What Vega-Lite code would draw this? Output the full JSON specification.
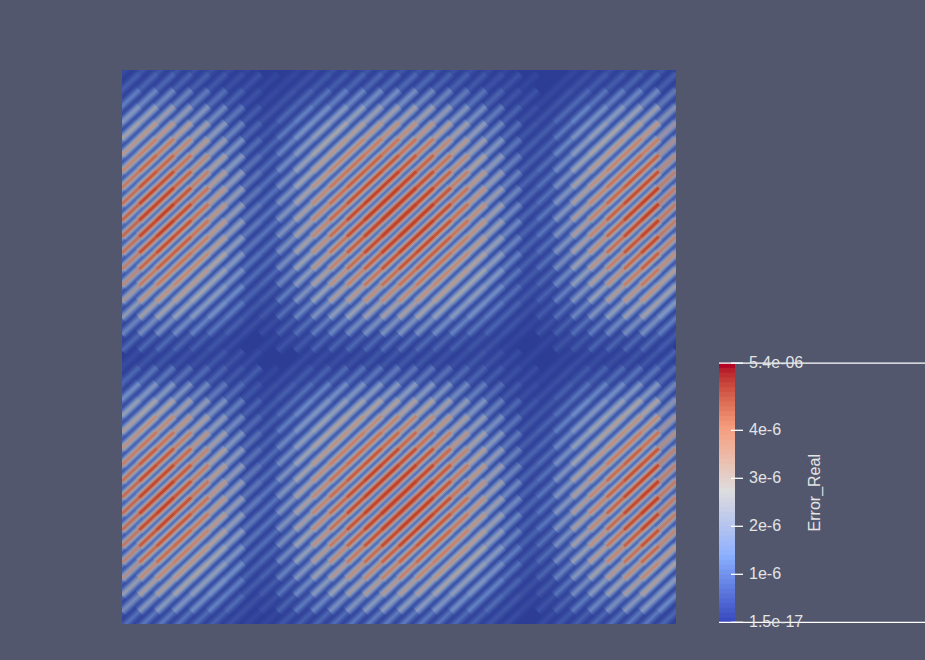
{"$schema":"https://vega.github.io/schema/vega-lite/v6.json","background":"#52576e","padding":{"left":122,"top":70,"right":0,"bottom":36},"spacing":42,"config":{"view":{"stroke":null}},
"datasets":{"cells":[
{"x":0,"y":0,"v":0.3},{"x":0,"y":1,"v":0.7},{"x":0,"y":2,"v":1.2},{"x":0,"y":3,"v":1.7},{"x":0,"y":4,"v":2},{"x":0,"y":5,"v":2.4},{"x":0,"y":6,"v":2.7},{"x":0,"y":7,"v":2.9},{"x":0,"y":8,"v":3},{"x":0,"y":9,"v":3},{"x":0,"y":10,"v":2.8},{"x":0,"y":11,"v":2.6},{"x":0,"y":12,"v":2.3},{"x":0,"y":13,"v":2},{"x":0,"y":14,"v":1.5},{"x":0,"y":15,"v":1},{"x":0,"y":16,"v":0.5},{"x":0,"y":18,"v":0.4},{"x":0,"y":19,"v":0.9},{"x":0,"y":20,"v":1.4},{"x":0,"y":21,"v":1.8},{"x":0,"y":22,"v":2.2},{"x":0,"y":23,"v":2.5},{"x":0,"y":24,"v":2.8},{"x":0,"y":25,"v":2.9},{"x":0,"y":26,"v":3},{"x":0,"y":27,"v":2.9},{"x":0,"y":28,"v":2.7},{"x":0,"y":29,"v":2.5},{"x":0,"y":30,"v":2.1},{"x":0,"y":31,"v":1.7},{"x":0,"y":32,"v":1.2},{"x":0,"y":33,"v":0.7},{"x":0,"y":34,"v":0.2},
{"x":1,"y":0,"v":0.5},{"x":1,"y":1,"v":1},{"x":1,"y":2,"v":1.8},{"x":1,"y":3,"v":2.6},{"x":1,"y":4,"v":3.2},{"x":1,"y":5,"v":3.7},{"x":1,"y":6,"v":4.1},{"x":1,"y":7,"v":4.4},{"x":1,"y":8,"v":4.6},{"x":1,"y":9,"v":4.6},{"x":1,"y":10,"v":4.4},{"x":1,"y":11,"v":4},{"x":1,"y":12,"v":3.6},{"x":1,"y":13,"v":3},{"x":1,"y":14,"v":2.4},{"x":1,"y":15,"v":1.6},{"x":1,"y":16,"v":0.8},{"x":1,"y":17,"v":0.2},{"x":1,"y":18,"v":0.6},{"x":1,"y":19,"v":1.4},{"x":1,"y":20,"v":2.2},{"x":1,"y":21,"v":2.8},{"x":1,"y":22,"v":3.4},{"x":1,"y":23,"v":3.9},{"x":1,"y":24,"v":4.3},{"x":1,"y":25,"v":4.5},{"x":1,"y":26,"v":4.6},{"x":1,"y":27,"v":4.5},{"x":1,"y":28,"v":4.2},{"x":1,"y":29,"v":3.8},{"x":1,"y":30,"v":3.3},{"x":1,"y":31,"v":2.6},{"x":1,"y":32,"v":1.9},{"x":1,"y":33,"v":1.1},{"x":1,"y":34,"v":0.4},
{"x":2,"y":0,"v":0.5},{"x":2,"y":1,"v":1.1},{"x":2,"y":2,"v":2},{"x":2,"y":3,"v":2.9},{"x":2,"y":4,"v":3.5},{"x":2,"y":5,"v":4.2},{"x":2,"y":6,"v":4.6},{"x":2,"y":7,"v":4.9},{"x":2,"y":8,"v":5.1},{"x":2,"y":9,"v":5.1},{"x":2,"y":10,"v":4.9},{"x":2,"y":11,"v":4.5},{"x":2,"y":12,"v":4},{"x":2,"y":13,"v":3.4},{"x":2,"y":14,"v":2.7},{"x":2,"y":15,"v":1.8},{"x":2,"y":16,"v":0.9},{"x":2,"y":17,"v":0.3},{"x":2,"y":18,"v":0.7},{"x":2,"y":19,"v":1.5},{"x":2,"y":20,"v":2.4},{"x":2,"y":21,"v":3.2},{"x":2,"y":22,"v":3.8},{"x":2,"y":23,"v":4.4},{"x":2,"y":24,"v":4.8},{"x":2,"y":25,"v":5},{"x":2,"y":26,"v":5.1},{"x":2,"y":27,"v":5},{"x":2,"y":28,"v":4.7},{"x":2,"y":29,"v":4.3},{"x":2,"y":30,"v":3.6},{"x":2,"y":31,"v":2.9},{"x":2,"y":32,"v":2.1},{"x":2,"y":33,"v":1.2},{"x":2,"y":34,"v":0.4},
{"x":3,"y":0,"v":0.5},{"x":3,"y":1,"v":1.1},{"x":3,"y":2,"v":2},{"x":3,"y":3,"v":2.8},{"x":3,"y":4,"v":3.5},{"x":3,"y":5,"v":4},{"x":3,"y":6,"v":4.5},{"x":3,"y":7,"v":4.8},{"x":3,"y":8,"v":5},{"x":3,"y":9,"v":5},{"x":3,"y":10,"v":4.8},{"x":3,"y":11,"v":4.4},{"x":3,"y":12,"v":3.9},{"x":3,"y":13,"v":3.3},{"x":3,"y":14,"v":2.6},{"x":3,"y":15,"v":1.8},{"x":3,"y":16,"v":0.9},{"x":3,"y":17,"v":0.3},{"x":3,"y":18,"v":0.7},{"x":3,"y":19,"v":1.5},{"x":3,"y":20,"v":2.4},{"x":3,"y":21,"v":3.1},{"x":3,"y":22,"v":3.7},{"x":3,"y":23,"v":4.3},{"x":3,"y":24,"v":4.7},{"x":3,"y":25,"v":4.9},{"x":3,"y":26,"v":5},{"x":3,"y":27,"v":4.9},{"x":3,"y":28,"v":4.6},{"x":3,"y":29,"v":4.2},{"x":3,"y":30,"v":3.6},{"x":3,"y":31,"v":2.9},{"x":3,"y":32,"v":2.1},{"x":3,"y":33,"v":1.2},{"x":3,"y":34,"v":0.4},
{"x":4,"y":0,"v":0.4},{"x":4,"y":1,"v":1},{"x":4,"y":2,"v":1.7},{"x":4,"y":3,"v":2.5},{"x":4,"y":4,"v":3.1},{"x":4,"y":5,"v":3.6},{"x":4,"y":6,"v":4},{"x":4,"y":7,"v":4.3},{"x":4,"y":8,"v":4.5},{"x":4,"y":9,"v":4.5},{"x":4,"y":10,"v":4.3},{"x":4,"y":11,"v":3.9},{"x":4,"y":12,"v":3.5},{"x":4,"y":13,"v":3},{"x":4,"y":14,"v":2.3},{"x":4,"y":15,"v":1.6},{"x":4,"y":16,"v":0.8},{"x":4,"y":17,"v":0.2},{"x":4,"y":18,"v":0.6},{"x":4,"y":19,"v":1.3},{"x":4,"y":20,"v":2.1},{"x":4,"y":21,"v":2.8},{"x":4,"y":22,"v":3.3},{"x":4,"y":23,"v":3.8},{"x":4,"y":24,"v":4.2},{"x":4,"y":25,"v":4.4},{"x":4,"y":26,"v":4.5},{"x":4,"y":27,"v":4.4},{"x":4,"y":28,"v":4.1},{"x":4,"y":29,"v":3.7},{"x":4,"y":30,"v":3.2},{"x":4,"y":31,"v":2.6},{"x":4,"y":32,"v":1.8},{"x":4,"y":33,"v":1.1},{"x":4,"y":34,"v":0.4},
{"x":5,"y":0,"v":0.4},{"x":5,"y":1,"v":0.8},{"x":5,"y":2,"v":1.4},{"x":5,"y":3,"v":2.1},{"x":5,"y":4,"v":2.6},{"x":5,"y":5,"v":3},{"x":5,"y":6,"v":3.3},{"x":5,"y":7,"v":3.6},{"x":5,"y":8,"v":3.7},{"x":5,"y":9,"v":3.7},{"x":5,"y":10,"v":3.5},{"x":5,"y":11,"v":3.3},{"x":5,"y":12,"v":2.9},{"x":5,"y":13,"v":2.4},{"x":5,"y":14,"v":1.9},{"x":5,"y":15,"v":1.3},{"x":5,"y":16,"v":0.7},{"x":5,"y":17,"v":0.2},{"x":5,"y":18,"v":0.5},{"x":5,"y":19,"v":1.1},{"x":5,"y":20,"v":1.7},{"x":5,"y":21,"v":2.3},{"x":5,"y":22,"v":2.7},{"x":5,"y":23,"v":3.1},{"x":5,"y":24,"v":3.4},{"x":5,"y":25,"v":3.6},{"x":5,"y":26,"v":3.7},{"x":5,"y":27,"v":3.6},{"x":5,"y":28,"v":3.4},{"x":5,"y":29,"v":3.1},{"x":5,"y":30,"v":2.6},{"x":5,"y":31,"v":2.1},{"x":5,"y":32,"v":1.5},{"x":5,"y":33,"v":0.9},{"x":5,"y":34,"v":0.3},
{"x":6,"y":0,"v":0.3},{"x":6,"y":1,"v":0.6},{"x":6,"y":2,"v":1.1},{"x":6,"y":3,"v":1.6},{"x":6,"y":4,"v":1.9},{"x":6,"y":5,"v":2.3},{"x":6,"y":6,"v":2.5},{"x":6,"y":7,"v":2.7},{"x":6,"y":8,"v":2.8},{"x":6,"y":9,"v":2.8},{"x":6,"y":10,"v":2.7},{"x":6,"y":11,"v":2.5},{"x":6,"y":12,"v":2.2},{"x":6,"y":13,"v":1.9},{"x":6,"y":14,"v":1.5},{"x":6,"y":15,"v":1},{"x":6,"y":16,"v":0.5},{"x":6,"y":18,"v":0.4},{"x":6,"y":19,"v":0.8},{"x":6,"y":20,"v":1.3},{"x":6,"y":21,"v":1.7},{"x":6,"y":22,"v":2.1},{"x":6,"y":23,"v":2.4},{"x":6,"y":24,"v":2.6},{"x":6,"y":25,"v":2.8},{"x":6,"y":26,"v":2.8},{"x":6,"y":27,"v":2.8},{"x":6,"y":28,"v":2.6},{"x":6,"y":29,"v":2.3},{"x":6,"y":30,"v":2},{"x":6,"y":31,"v":1.6},{"x":6,"y":32,"v":1.2},{"x":6,"y":33,"v":0.7},{"x":6,"y":34,"v":0.2},
{"x":7,"y":0,"v":0.2},{"x":7,"y":1,"v":0.4},{"x":7,"y":2,"v":0.7},{"x":7,"y":3,"v":1},{"x":7,"y":4,"v":1.3},{"x":7,"y":5,"v":1.5},{"x":7,"y":6,"v":1.7},{"x":7,"y":7,"v":1.8},{"x":7,"y":8,"v":1.8},{"x":7,"y":9,"v":1.8},{"x":7,"y":10,"v":1.7},{"x":7,"y":11,"v":1.6},{"x":7,"y":12,"v":1.4},{"x":7,"y":13,"v":1.2},{"x":7,"y":14,"v":1},{"x":7,"y":15,"v":0.6},{"x":7,"y":16,"v":0.3},{"x":7,"y":18,"v":0.3},{"x":7,"y":19,"v":0.6},{"x":7,"y":20,"v":0.9},{"x":7,"y":21,"v":1.1},{"x":7,"y":22,"v":1.4},{"x":7,"y":23,"v":1.6},{"x":7,"y":24,"v":1.7},{"x":7,"y":25,"v":1.8},{"x":7,"y":26,"v":1.8},{"x":7,"y":27,"v":1.8},{"x":7,"y":28,"v":1.7},{"x":7,"y":29,"v":1.5},{"x":7,"y":30,"v":1.3},{"x":7,"y":31,"v":1},{"x":7,"y":32,"v":0.8},{"x":7,"y":33,"v":0.4},
{"x":8,"y":1,"v":0.2},{"x":8,"y":2,"v":0.3},{"x":8,"y":3,"v":0.4},{"x":8,"y":4,"v":0.5},{"x":8,"y":5,"v":0.6},{"x":8,"y":6,"v":0.7},{"x":8,"y":7,"v":0.7},{"x":8,"y":8,"v":0.8},{"x":8,"y":9,"v":0.8},{"x":8,"y":10,"v":0.7},{"x":8,"y":11,"v":0.7},{"x":8,"y":12,"v":0.6},{"x":8,"y":13,"v":0.5},{"x":8,"y":14,"v":0.4},{"x":8,"y":15,"v":0.3},{"x":8,"y":19,"v":0.2},{"x":8,"y":20,"v":0.4},{"x":8,"y":21,"v":0.5},{"x":8,"y":22,"v":0.6},{"x":8,"y":23,"v":0.6},{"x":8,"y":24,"v":0.7},{"x":8,"y":25,"v":0.7},{"x":8,"y":26,"v":0.8},{"x":8,"y":27,"v":0.7},{"x":8,"y":28,"v":0.7},{"x":8,"y":29,"v":0.6},{"x":8,"y":30,"v":0.5},{"x":8,"y":31,"v":0.4},{"x":8,"y":32,"v":0.3},{"x":8,"y":33,"v":0.2},
{"x":9,"y":1,"v":0.2},{"x":9,"y":2,"v":0.4},{"x":9,"y":3,"v":0.5},{"x":9,"y":4,"v":0.7},{"x":9,"y":5,"v":0.8},{"x":9,"y":6,"v":0.9},{"x":9,"y":7,"v":0.9},{"x":9,"y":8,"v":1},{"x":9,"y":9,"v":1},{"x":9,"y":10,"v":0.9},{"x":9,"y":11,"v":0.9},{"x":9,"y":12,"v":0.8},{"x":9,"y":13,"v":0.6},{"x":9,"y":14,"v":0.5},{"x":9,"y":15,"v":0.3},{"x":9,"y":16,"v":0.2},{"x":9,"y":19,"v":0.3},{"x":9,"y":20,"v":0.5},{"x":9,"y":21,"v":0.6},{"x":9,"y":22,"v":0.7},{"x":9,"y":23,"v":0.8},{"x":9,"y":24,"v":0.9},{"x":9,"y":25,"v":1},{"x":9,"y":26,"v":1},{"x":9,"y":27,"v":1},{"x":9,"y":28,"v":0.9},{"x":9,"y":29,"v":0.8},{"x":9,"y":30,"v":0.7},{"x":9,"y":31,"v":0.6},{"x":9,"y":32,"v":0.4},{"x":9,"y":33,"v":0.2},
{"x":10,"y":0,"v":0.2},{"x":10,"y":1,"v":0.4},{"x":10,"y":2,"v":0.8},{"x":10,"y":3,"v":1.1},{"x":10,"y":4,"v":1.4},{"x":10,"y":5,"v":1.6},{"x":10,"y":6,"v":1.8},{"x":10,"y":7,"v":1.9},{"x":10,"y":8,"v":2},{"x":10,"y":9,"v":2},{"x":10,"y":10,"v":1.9},{"x":10,"y":11,"v":1.8},{"x":10,"y":12,"v":1.6},{"x":10,"y":13,"v":1.3},{"x":10,"y":14,"v":1},{"x":10,"y":15,"v":0.7},{"x":10,"y":16,"v":0.4},{"x":10,"y":18,"v":0.3},{"x":10,"y":19,"v":0.6},{"x":10,"y":20,"v":0.9},{"x":10,"y":21,"v":1.2},{"x":10,"y":22,"v":1.5},{"x":10,"y":23,"v":1.7},{"x":10,"y":24,"v":1.9},{"x":10,"y":25,"v":2},{"x":10,"y":26,"v":2},{"x":10,"y":27,"v":2},{"x":10,"y":28,"v":1.8},{"x":10,"y":29,"v":1.7},{"x":10,"y":30,"v":1.4},{"x":10,"y":31,"v":1.1},{"x":10,"y":32,"v":0.8},{"x":10,"y":33,"v":0.5},{"x":10,"y":34,"v":0.2},
{"x":11,"y":0,"v":0.3},{"x":11,"y":1,"v":0.6},{"x":11,"y":2,"v":1.1},{"x":11,"y":3,"v":1.6},{"x":11,"y":4,"v":1.9},{"x":11,"y":5,"v":2.3},{"x":11,"y":6,"v":2.5},{"x":11,"y":7,"v":2.7},{"x":11,"y":8,"v":2.8},{"x":11,"y":9,"v":2.8},{"x":11,"y":10,"v":2.7},{"x":11,"y":11,"v":2.5},{"x":11,"y":12,"v":2.2},{"x":11,"y":13,"v":1.9},{"x":11,"y":14,"v":1.5},{"x":11,"y":15,"v":1},{"x":11,"y":16,"v":0.5},{"x":11,"y":18,"v":0.4},{"x":11,"y":19,"v":0.8},{"x":11,"y":20,"v":1.3},{"x":11,"y":21,"v":1.7},{"x":11,"y":22,"v":2.1},{"x":11,"y":23,"v":2.4},{"x":11,"y":24,"v":2.6},{"x":11,"y":25,"v":2.8},{"x":11,"y":26,"v":2.8},{"x":11,"y":27,"v":2.8},{"x":11,"y":28,"v":2.6},{"x":11,"y":29,"v":2.3},{"x":11,"y":30,"v":2},{"x":11,"y":31,"v":1.6},{"x":11,"y":32,"v":1.2},{"x":11,"y":33,"v":0.7},{"x":11,"y":34,"v":0.2},
{"x":12,"y":0,"v":0.4},{"x":12,"y":1,"v":0.8},{"x":12,"y":2,"v":1.4},{"x":12,"y":3,"v":2.1},{"x":12,"y":4,"v":2.6},{"x":12,"y":5,"v":3},{"x":12,"y":6,"v":3.3},{"x":12,"y":7,"v":3.6},{"x":12,"y":8,"v":3.7},{"x":12,"y":9,"v":3.7},{"x":12,"y":10,"v":3.5},{"x":12,"y":11,"v":3.3},{"x":12,"y":12,"v":2.9},{"x":12,"y":13,"v":2.4},{"x":12,"y":14,"v":1.9},{"x":12,"y":15,"v":1.3},{"x":12,"y":16,"v":0.7},{"x":12,"y":17,"v":0.2},{"x":12,"y":18,"v":0.5},{"x":12,"y":19,"v":1.1},{"x":12,"y":20,"v":1.7},{"x":12,"y":21,"v":2.3},{"x":12,"y":22,"v":2.7},{"x":12,"y":23,"v":3.1},{"x":12,"y":24,"v":3.4},{"x":12,"y":25,"v":3.6},{"x":12,"y":26,"v":3.7},{"x":12,"y":27,"v":3.6},{"x":12,"y":28,"v":3.4},{"x":12,"y":29,"v":3.1},{"x":12,"y":30,"v":2.6},{"x":12,"y":31,"v":2.1},{"x":12,"y":32,"v":1.5},{"x":12,"y":33,"v":0.9},{"x":12,"y":34,"v":0.3},
{"x":13,"y":0,"v":0.4},{"x":13,"y":1,"v":1},{"x":13,"y":2,"v":1.7},{"x":13,"y":3,"v":2.4},{"x":13,"y":4,"v":3},{"x":13,"y":5,"v":3.5},{"x":13,"y":6,"v":3.9},{"x":13,"y":7,"v":4.1},{"x":13,"y":8,"v":4.3},{"x":13,"y":9,"v":4.3},{"x":13,"y":10,"v":4.1},{"x":13,"y":11,"v":3.8},{"x":13,"y":12,"v":3.4},{"x":13,"y":13,"v":2.9},{"x":13,"y":14,"v":2.2},{"x":13,"y":15,"v":1.5},{"x":13,"y":16,"v":0.8},{"x":13,"y":17,"v":0.2},{"x":13,"y":18,"v":0.6},{"x":13,"y":19,"v":1.3},{"x":13,"y":20,"v":2},{"x":13,"y":21,"v":2.7},{"x":13,"y":22,"v":3.2},{"x":13,"y":23,"v":3.7},{"x":13,"y":24,"v":4},{"x":13,"y":25,"v":4.2},{"x":13,"y":26,"v":4.3},{"x":13,"y":27,"v":4.2},{"x":13,"y":28,"v":4},{"x":13,"y":29,"v":3.6},{"x":13,"y":30,"v":3.1},{"x":13,"y":31,"v":2.5},{"x":13,"y":32,"v":1.8},{"x":13,"y":33,"v":1},{"x":13,"y":34,"v":0.3},
{"x":14,"y":0,"v":0.5},{"x":14,"y":1,"v":1.1},{"x":14,"y":2,"v":1.9},{"x":14,"y":3,"v":2.7},{"x":14,"y":4,"v":3.4},{"x":14,"y":5,"v":3.9},{"x":14,"y":6,"v":4.4},{"x":14,"y":7,"v":4.7},{"x":14,"y":8,"v":4.9},{"x":14,"y":9,"v":4.9},{"x":14,"y":10,"v":4.6},{"x":14,"y":11,"v":4.3},{"x":14,"y":12,"v":3.8},{"x":14,"y":13,"v":3.2},{"x":14,"y":14,"v":2.5},{"x":14,"y":15,"v":1.7},{"x":14,"y":16,"v":0.9},{"x":14,"y":17,"v":0.2},{"x":14,"y":18,"v":0.7},{"x":14,"y":19,"v":1.5},{"x":14,"y":20,"v":2.3},{"x":14,"y":21,"v":3},{"x":14,"y":22,"v":3.6},{"x":14,"y":23,"v":4.1},{"x":14,"y":24,"v":4.5},{"x":14,"y":25,"v":4.8},{"x":14,"y":26,"v":4.9},{"x":14,"y":27,"v":4.8},{"x":14,"y":28,"v":4.5},{"x":14,"y":29,"v":4},{"x":14,"y":30,"v":3.5},{"x":14,"y":31,"v":2.8},{"x":14,"y":32,"v":2},{"x":14,"y":33,"v":1.2},{"x":14,"y":34,"v":0.4},
{"x":15,"y":0,"v":0.5},{"x":15,"y":1,"v":1.2},{"x":15,"y":2,"v":2},{"x":15,"y":3,"v":2.9},{"x":15,"y":4,"v":3.6},{"x":15,"y":5,"v":4.2},{"x":15,"y":6,"v":4.7},{"x":15,"y":7,"v":5},{"x":15,"y":8,"v":5.2},{"x":15,"y":9,"v":5.2},{"x":15,"y":10,"v":5},{"x":15,"y":11,"v":4.6},{"x":15,"y":12,"v":4.1},{"x":15,"y":13,"v":3.5},{"x":15,"y":14,"v":2.7},{"x":15,"y":15,"v":1.8},{"x":15,"y":16,"v":0.9},{"x":15,"y":17,"v":0.3},{"x":15,"y":18,"v":0.7},{"x":15,"y":19,"v":1.6},{"x":15,"y":20,"v":2.5},{"x":15,"y":21,"v":3.2},{"x":15,"y":22,"v":3.9},{"x":15,"y":23,"v":4.5},{"x":15,"y":24,"v":4.9},{"x":15,"y":25,"v":5.1},{"x":15,"y":26,"v":5.2},{"x":15,"y":27,"v":5.1},{"x":15,"y":28,"v":4.8},{"x":15,"y":29,"v":4.3},{"x":15,"y":30,"v":3.7},{"x":15,"y":31,"v":3},{"x":15,"y":32,"v":2.1},{"x":15,"y":33,"v":1.3},{"x":15,"y":34,"v":0.4},
{"x":16,"y":0,"v":0.5},{"x":16,"y":1,"v":1.2},{"x":16,"y":2,"v":2.1},{"x":16,"y":3,"v":3},{"x":16,"y":4,"v":3.7},{"x":16,"y":5,"v":4.4},{"x":16,"y":6,"v":4.9},{"x":16,"y":7,"v":5.2},{"x":16,"y":8,"v":5.4},{"x":16,"y":9,"v":5.4},{"x":16,"y":10,"v":5.1},{"x":16,"y":11,"v":4.8},{"x":16,"y":12,"v":4.2},{"x":16,"y":13,"v":3.6},{"x":16,"y":14,"v":2.8},{"x":16,"y":15,"v":1.9},{"x":16,"y":16,"v":1},{"x":16,"y":17,"v":0.3},{"x":16,"y":18,"v":0.8},{"x":16,"y":19,"v":1.6},{"x":16,"y":20,"v":2.5},{"x":16,"y":21,"v":3.3},{"x":16,"y":22,"v":4},{"x":16,"y":23,"v":4.6},{"x":16,"y":24,"v":5},{"x":16,"y":25,"v":5.3},{"x":16,"y":26,"v":5.4},{"x":16,"y":27,"v":5.3},{"x":16,"y":28,"v":5},{"x":16,"y":29,"v":4.5},{"x":16,"y":30,"v":3.8},{"x":16,"y":31,"v":3.1},{"x":16,"y":32,"v":2.2},{"x":16,"y":33,"v":1.3},{"x":16,"y":34,"v":0.4},
{"x":17,"y":0,"v":0.5},{"x":17,"y":1,"v":1.2},{"x":17,"y":2,"v":2.1},{"x":17,"y":3,"v":3},{"x":17,"y":4,"v":3.7},{"x":17,"y":5,"v":4.3},{"x":17,"y":6,"v":4.8},{"x":17,"y":7,"v":5.1},{"x":17,"y":8,"v":5.3},{"x":17,"y":9,"v":5.3},{"x":17,"y":10,"v":5},{"x":17,"y":11,"v":4.7},{"x":17,"y":12,"v":4.1},{"x":17,"y":13,"v":3.5},{"x":17,"y":14,"v":2.8},{"x":17,"y":15,"v":1.9},{"x":17,"y":16,"v":1},{"x":17,"y":17,"v":0.3},{"x":17,"y":18,"v":0.7},{"x":17,"y":19,"v":1.6},{"x":17,"y":20,"v":2.5},{"x":17,"y":21,"v":3.3},{"x":17,"y":22,"v":3.9},{"x":17,"y":23,"v":4.5},{"x":17,"y":24,"v":4.9},{"x":17,"y":25,"v":5.2},{"x":17,"y":26,"v":5.3},{"x":17,"y":27,"v":5.2},{"x":17,"y":28,"v":4.9},{"x":17,"y":29,"v":4.4},{"x":17,"y":30,"v":3.8},{"x":17,"y":31,"v":3},{"x":17,"y":32,"v":2.2},{"x":17,"y":33,"v":1.3},{"x":17,"y":34,"v":0.4},
{"x":18,"y":0,"v":0.5},{"x":18,"y":1,"v":1.1},{"x":18,"y":2,"v":2},{"x":18,"y":3,"v":2.8},{"x":18,"y":4,"v":3.5},{"x":18,"y":5,"v":4},{"x":18,"y":6,"v":4.5},{"x":18,"y":7,"v":4.8},{"x":18,"y":8,"v":5},{"x":18,"y":9,"v":5},{"x":18,"y":10,"v":4.8},{"x":18,"y":11,"v":4.4},{"x":18,"y":12,"v":3.9},{"x":18,"y":13,"v":3.3},{"x":18,"y":14,"v":2.6},{"x":18,"y":15,"v":1.8},{"x":18,"y":16,"v":0.9},{"x":18,"y":17,"v":0.3},{"x":18,"y":18,"v":0.7},{"x":18,"y":19,"v":1.5},{"x":18,"y":20,"v":2.4},{"x":18,"y":21,"v":3.1},{"x":18,"y":22,"v":3.7},{"x":18,"y":23,"v":4.3},{"x":18,"y":24,"v":4.7},{"x":18,"y":25,"v":4.9},{"x":18,"y":26,"v":5},{"x":18,"y":27,"v":4.9},{"x":18,"y":28,"v":4.6},{"x":18,"y":29,"v":4.2},{"x":18,"y":30,"v":3.6},{"x":18,"y":31,"v":2.9},{"x":18,"y":32,"v":2.1},{"x":18,"y":33,"v":1.2},{"x":18,"y":34,"v":0.4},
{"x":19,"y":0,"v":0.4},{"x":19,"y":1,"v":1},{"x":19,"y":2,"v":1.7},{"x":19,"y":3,"v":2.5},{"x":19,"y":4,"v":3.1},{"x":19,"y":5,"v":3.6},{"x":19,"y":6,"v":4},{"x":19,"y":7,"v":4.3},{"x":19,"y":8,"v":4.5},{"x":19,"y":9,"v":4.5},{"x":19,"y":10,"v":4.3},{"x":19,"y":11,"v":3.9},{"x":19,"y":12,"v":3.5},{"x":19,"y":13,"v":3},{"x":19,"y":14,"v":2.3},{"x":19,"y":15,"v":1.6},{"x":19,"y":16,"v":0.8},{"x":19,"y":17,"v":0.2},{"x":19,"y":18,"v":0.6},{"x":19,"y":19,"v":1.3},{"x":19,"y":20,"v":2.1},{"x":19,"y":21,"v":2.8},{"x":19,"y":22,"v":3.3},{"x":19,"y":23,"v":3.8},{"x":19,"y":24,"v":4.2},{"x":19,"y":25,"v":4.4},{"x":19,"y":26,"v":4.5},{"x":19,"y":27,"v":4.4},{"x":19,"y":28,"v":4.1},{"x":19,"y":29,"v":3.7},{"x":19,"y":30,"v":3.2},{"x":19,"y":31,"v":2.6},{"x":19,"y":32,"v":1.8},{"x":19,"y":33,"v":1.1},{"x":19,"y":34,"v":0.4},
{"x":20,"y":0,"v":0.4},{"x":20,"y":1,"v":0.8},{"x":20,"y":2,"v":1.4},{"x":20,"y":3,"v":2.1},{"x":20,"y":4,"v":2.6},{"x":20,"y":5,"v":3},{"x":20,"y":6,"v":3.3},{"x":20,"y":7,"v":3.6},{"x":20,"y":8,"v":3.7},{"x":20,"y":9,"v":3.7},{"x":20,"y":10,"v":3.5},{"x":20,"y":11,"v":3.3},{"x":20,"y":12,"v":2.9},{"x":20,"y":13,"v":2.4},{"x":20,"y":14,"v":1.9},{"x":20,"y":15,"v":1.3},{"x":20,"y":16,"v":0.7},{"x":20,"y":17,"v":0.2},{"x":20,"y":18,"v":0.5},{"x":20,"y":19,"v":1.1},{"x":20,"y":20,"v":1.7},{"x":20,"y":21,"v":2.3},{"x":20,"y":22,"v":2.7},{"x":20,"y":23,"v":3.1},{"x":20,"y":24,"v":3.4},{"x":20,"y":25,"v":3.6},{"x":20,"y":26,"v":3.7},{"x":20,"y":27,"v":3.6},{"x":20,"y":28,"v":3.4},{"x":20,"y":29,"v":3.1},{"x":20,"y":30,"v":2.6},{"x":20,"y":31,"v":2.1},{"x":20,"y":32,"v":1.5},{"x":20,"y":33,"v":0.9},{"x":20,"y":34,"v":0.3},
{"x":21,"y":0,"v":0.3},{"x":21,"y":1,"v":0.7},{"x":21,"y":2,"v":1.2},{"x":21,"y":3,"v":1.7},{"x":21,"y":4,"v":2},{"x":21,"y":5,"v":2.4},{"x":21,"y":6,"v":2.7},{"x":21,"y":7,"v":2.9},{"x":21,"y":8,"v":3},{"x":21,"y":9,"v":3},{"x":21,"y":10,"v":2.8},{"x":21,"y":11,"v":2.6},{"x":21,"y":12,"v":2.3},{"x":21,"y":13,"v":2},{"x":21,"y":14,"v":1.5},{"x":21,"y":15,"v":1},{"x":21,"y":16,"v":0.5},{"x":21,"y":18,"v":0.4},{"x":21,"y":19,"v":0.9},{"x":21,"y":20,"v":1.4},{"x":21,"y":21,"v":1.8},{"x":21,"y":22,"v":2.2},{"x":21,"y":23,"v":2.5},{"x":21,"y":24,"v":2.8},{"x":21,"y":25,"v":2.9},{"x":21,"y":26,"v":3},{"x":21,"y":27,"v":2.9},{"x":21,"y":28,"v":2.7},{"x":21,"y":29,"v":2.5},{"x":21,"y":30,"v":2.1},{"x":21,"y":31,"v":1.7},{"x":21,"y":32,"v":1.2},{"x":21,"y":33,"v":0.7},{"x":21,"y":34,"v":0.2},
{"x":22,"y":0,"v":0.2},{"x":22,"y":1,"v":0.4},{"x":22,"y":2,"v":0.8},{"x":22,"y":3,"v":1.1},{"x":22,"y":4,"v":1.4},{"x":22,"y":5,"v":1.6},{"x":22,"y":6,"v":1.8},{"x":22,"y":7,"v":1.9},{"x":22,"y":8,"v":2},{"x":22,"y":9,"v":2},{"x":22,"y":10,"v":1.9},{"x":22,"y":11,"v":1.8},{"x":22,"y":12,"v":1.6},{"x":22,"y":13,"v":1.3},{"x":22,"y":14,"v":1},{"x":22,"y":15,"v":0.7},{"x":22,"y":16,"v":0.4},{"x":22,"y":18,"v":0.3},{"x":22,"y":19,"v":0.6},{"x":22,"y":20,"v":0.9},{"x":22,"y":21,"v":1.2},{"x":22,"y":22,"v":1.5},{"x":22,"y":23,"v":1.7},{"x":22,"y":24,"v":1.9},{"x":22,"y":25,"v":2},{"x":22,"y":26,"v":2},{"x":22,"y":27,"v":2},{"x":22,"y":28,"v":1.8},{"x":22,"y":29,"v":1.7},{"x":22,"y":30,"v":1.4},{"x":22,"y":31,"v":1.1},{"x":22,"y":32,"v":0.8},{"x":22,"y":33,"v":0.5},{"x":22,"y":34,"v":0.2},
{"x":23,"y":1,"v":0.2},{"x":23,"y":2,"v":0.4},{"x":23,"y":3,"v":0.6},{"x":23,"y":4,"v":0.7},{"x":23,"y":5,"v":0.9},{"x":23,"y":6,"v":1},{"x":23,"y":7,"v":1},{"x":23,"y":8,"v":1.1},{"x":23,"y":9,"v":1.1},{"x":23,"y":10,"v":1},{"x":23,"y":11,"v":1},{"x":23,"y":12,"v":0.8},{"x":23,"y":13,"v":0.7},{"x":23,"y":14,"v":0.6},{"x":23,"y":15,"v":0.4},{"x":23,"y":16,"v":0.2},{"x":23,"y":18,"v":0.2},{"x":23,"y":19,"v":0.3},{"x":23,"y":20,"v":0.5},{"x":23,"y":21,"v":0.7},{"x":23,"y":22,"v":0.8},{"x":23,"y":23,"v":0.9},{"x":23,"y":24,"v":1},{"x":23,"y":25,"v":1.1},{"x":23,"y":26,"v":1.1},{"x":23,"y":27,"v":1.1},{"x":23,"y":28,"v":1},{"x":23,"y":29,"v":0.9},{"x":23,"y":30,"v":0.8},{"x":23,"y":31,"v":0.6},{"x":23,"y":32,"v":0.4},{"x":23,"y":33,"v":0.3},
{"x":24,"y":2,"v":0.2},{"x":24,"y":3,"v":0.3},{"x":24,"y":4,"v":0.4},{"x":24,"y":5,"v":0.4},{"x":24,"y":6,"v":0.5},{"x":24,"y":7,"v":0.5},{"x":24,"y":8,"v":0.5},{"x":24,"y":9,"v":0.5},{"x":24,"y":10,"v":0.5},{"x":24,"y":11,"v":0.5},{"x":24,"y":12,"v":0.4},{"x":24,"y":13,"v":0.4},{"x":24,"y":14,"v":0.3},{"x":24,"y":15,"v":0.2},{"x":24,"y":19,"v":0.2},{"x":24,"y":20,"v":0.3},{"x":24,"y":21,"v":0.3},{"x":24,"y":22,"v":0.4},{"x":24,"y":23,"v":0.5},{"x":24,"y":24,"v":0.5},{"x":24,"y":25,"v":0.5},{"x":24,"y":26,"v":0.5},{"x":24,"y":27,"v":0.5},{"x":24,"y":28,"v":0.5},{"x":24,"y":29,"v":0.4},{"x":24,"y":30,"v":0.4},{"x":24,"y":31,"v":0.3},{"x":24,"y":32,"v":0.2},
{"x":25,"y":1,"v":0.2},{"x":25,"y":2,"v":0.4},{"x":25,"y":3,"v":0.6},{"x":25,"y":4,"v":0.7},{"x":25,"y":5,"v":0.9},{"x":25,"y":6,"v":1},{"x":25,"y":7,"v":1},{"x":25,"y":8,"v":1.1},{"x":25,"y":9,"v":1.1},{"x":25,"y":10,"v":1},{"x":25,"y":11,"v":1},{"x":25,"y":12,"v":0.8},{"x":25,"y":13,"v":0.7},{"x":25,"y":14,"v":0.6},{"x":25,"y":15,"v":0.4},{"x":25,"y":16,"v":0.2},{"x":25,"y":18,"v":0.2},{"x":25,"y":19,"v":0.3},{"x":25,"y":20,"v":0.5},{"x":25,"y":21,"v":0.7},{"x":25,"y":22,"v":0.8},{"x":25,"y":23,"v":0.9},{"x":25,"y":24,"v":1},{"x":25,"y":25,"v":1.1},{"x":25,"y":26,"v":1.1},{"x":25,"y":27,"v":1.1},{"x":25,"y":28,"v":1},{"x":25,"y":29,"v":0.9},{"x":25,"y":30,"v":0.8},{"x":25,"y":31,"v":0.6},{"x":25,"y":32,"v":0.4},{"x":25,"y":33,"v":0.3},
{"x":26,"y":0,"v":0.2},{"x":26,"y":1,"v":0.4},{"x":26,"y":2,"v":0.8},{"x":26,"y":3,"v":1.1},{"x":26,"y":4,"v":1.4},{"x":26,"y":5,"v":1.6},{"x":26,"y":6,"v":1.8},{"x":26,"y":7,"v":1.9},{"x":26,"y":8,"v":2},{"x":26,"y":9,"v":2},{"x":26,"y":10,"v":1.9},{"x":26,"y":11,"v":1.8},{"x":26,"y":12,"v":1.6},{"x":26,"y":13,"v":1.3},{"x":26,"y":14,"v":1},{"x":26,"y":15,"v":0.7},{"x":26,"y":16,"v":0.4},{"x":26,"y":18,"v":0.3},{"x":26,"y":19,"v":0.6},{"x":26,"y":20,"v":0.9},{"x":26,"y":21,"v":1.2},{"x":26,"y":22,"v":1.5},{"x":26,"y":23,"v":1.7},{"x":26,"y":24,"v":1.9},{"x":26,"y":25,"v":2},{"x":26,"y":26,"v":2},{"x":26,"y":27,"v":2},{"x":26,"y":28,"v":1.8},{"x":26,"y":29,"v":1.7},{"x":26,"y":30,"v":1.4},{"x":26,"y":31,"v":1.1},{"x":26,"y":32,"v":0.8},{"x":26,"y":33,"v":0.5},{"x":26,"y":34,"v":0.2},
{"x":27,"y":0,"v":0.3},{"x":27,"y":1,"v":0.7},{"x":27,"y":2,"v":1.2},{"x":27,"y":3,"v":1.7},{"x":27,"y":4,"v":2},{"x":27,"y":5,"v":2.4},{"x":27,"y":6,"v":2.7},{"x":27,"y":7,"v":2.9},{"x":27,"y":8,"v":3},{"x":27,"y":9,"v":3},{"x":27,"y":10,"v":2.8},{"x":27,"y":11,"v":2.6},{"x":27,"y":12,"v":2.3},{"x":27,"y":13,"v":2},{"x":27,"y":14,"v":1.5},{"x":27,"y":15,"v":1},{"x":27,"y":16,"v":0.5},{"x":27,"y":18,"v":0.4},{"x":27,"y":19,"v":0.9},{"x":27,"y":20,"v":1.4},{"x":27,"y":21,"v":1.8},{"x":27,"y":22,"v":2.2},{"x":27,"y":23,"v":2.5},{"x":27,"y":24,"v":2.8},{"x":27,"y":25,"v":2.9},{"x":27,"y":26,"v":3},{"x":27,"y":27,"v":2.9},{"x":27,"y":28,"v":2.7},{"x":27,"y":29,"v":2.5},{"x":27,"y":30,"v":2.1},{"x":27,"y":31,"v":1.7},{"x":27,"y":32,"v":1.2},{"x":27,"y":33,"v":0.7},{"x":27,"y":34,"v":0.2},
{"x":28,"y":0,"v":0.4},{"x":28,"y":1,"v":0.8},{"x":28,"y":2,"v":1.4},{"x":28,"y":3,"v":2.1},{"x":28,"y":4,"v":2.6},{"x":28,"y":5,"v":3},{"x":28,"y":6,"v":3.3},{"x":28,"y":7,"v":3.6},{"x":28,"y":8,"v":3.7},{"x":28,"y":9,"v":3.7},{"x":28,"y":10,"v":3.5},{"x":28,"y":11,"v":3.3},{"x":28,"y":12,"v":2.9},{"x":28,"y":13,"v":2.4},{"x":28,"y":14,"v":1.9},{"x":28,"y":15,"v":1.3},{"x":28,"y":16,"v":0.7},{"x":28,"y":17,"v":0.2},{"x":28,"y":18,"v":0.5},{"x":28,"y":19,"v":1.1},{"x":28,"y":20,"v":1.7},{"x":28,"y":21,"v":2.3},{"x":28,"y":22,"v":2.7},{"x":28,"y":23,"v":3.1},{"x":28,"y":24,"v":3.4},{"x":28,"y":25,"v":3.6},{"x":28,"y":26,"v":3.7},{"x":28,"y":27,"v":3.6},{"x":28,"y":28,"v":3.4},{"x":28,"y":29,"v":3.1},{"x":28,"y":30,"v":2.6},{"x":28,"y":31,"v":2.1},{"x":28,"y":32,"v":1.5},{"x":28,"y":33,"v":0.9},{"x":28,"y":34,"v":0.3},
{"x":29,"y":0,"v":0.4},{"x":29,"y":1,"v":1},{"x":29,"y":2,"v":1.7},{"x":29,"y":3,"v":2.5},{"x":29,"y":4,"v":3.1},{"x":29,"y":5,"v":3.6},{"x":29,"y":6,"v":4},{"x":29,"y":7,"v":4.3},{"x":29,"y":8,"v":4.5},{"x":29,"y":9,"v":4.5},{"x":29,"y":10,"v":4.3},{"x":29,"y":11,"v":3.9},{"x":29,"y":12,"v":3.5},{"x":29,"y":13,"v":3},{"x":29,"y":14,"v":2.3},{"x":29,"y":15,"v":1.6},{"x":29,"y":16,"v":0.8},{"x":29,"y":17,"v":0.2},{"x":29,"y":18,"v":0.6},{"x":29,"y":19,"v":1.3},{"x":29,"y":20,"v":2.1},{"x":29,"y":21,"v":2.8},{"x":29,"y":22,"v":3.3},{"x":29,"y":23,"v":3.8},{"x":29,"y":24,"v":4.2},{"x":29,"y":25,"v":4.4},{"x":29,"y":26,"v":4.5},{"x":29,"y":27,"v":4.4},{"x":29,"y":28,"v":4.1},{"x":29,"y":29,"v":3.7},{"x":29,"y":30,"v":3.2},{"x":29,"y":31,"v":2.6},{"x":29,"y":32,"v":1.8},{"x":29,"y":33,"v":1.1},{"x":29,"y":34,"v":0.4},
{"x":30,"y":0,"v":0.5},{"x":30,"y":1,"v":1.1},{"x":30,"y":2,"v":2},{"x":30,"y":3,"v":2.8},{"x":30,"y":4,"v":3.5},{"x":30,"y":5,"v":4},{"x":30,"y":6,"v":4.5},{"x":30,"y":7,"v":4.8},{"x":30,"y":8,"v":5},{"x":30,"y":9,"v":5},{"x":30,"y":10,"v":4.8},{"x":30,"y":11,"v":4.4},{"x":30,"y":12,"v":3.9},{"x":30,"y":13,"v":3.3},{"x":30,"y":14,"v":2.6},{"x":30,"y":15,"v":1.8},{"x":30,"y":16,"v":0.9},{"x":30,"y":17,"v":0.3},{"x":30,"y":18,"v":0.7},{"x":30,"y":19,"v":1.5},{"x":30,"y":20,"v":2.4},{"x":30,"y":21,"v":3.1},{"x":30,"y":22,"v":3.7},{"x":30,"y":23,"v":4.3},{"x":30,"y":24,"v":4.7},{"x":30,"y":25,"v":4.9},{"x":30,"y":26,"v":5},{"x":30,"y":27,"v":4.9},{"x":30,"y":28,"v":4.6},{"x":30,"y":29,"v":4.2},{"x":30,"y":30,"v":3.6},{"x":30,"y":31,"v":2.9},{"x":30,"y":32,"v":2.1},{"x":30,"y":33,"v":1.2},{"x":30,"y":34,"v":0.4},
{"x":31,"y":0,"v":0.5},{"x":31,"y":1,"v":1.1},{"x":31,"y":2,"v":2},{"x":31,"y":3,"v":2.9},{"x":31,"y":4,"v":3.5},{"x":31,"y":5,"v":4.2},{"x":31,"y":6,"v":4.6},{"x":31,"y":7,"v":4.9},{"x":31,"y":8,"v":5.1},{"x":31,"y":9,"v":5.1},{"x":31,"y":10,"v":4.9},{"x":31,"y":11,"v":4.5},{"x":31,"y":12,"v":4},{"x":31,"y":13,"v":3.4},{"x":31,"y":14,"v":2.7},{"x":31,"y":15,"v":1.8},{"x":31,"y":16,"v":0.9},{"x":31,"y":17,"v":0.3},{"x":31,"y":18,"v":0.7},{"x":31,"y":19,"v":1.5},{"x":31,"y":20,"v":2.4},{"x":31,"y":21,"v":3.2},{"x":31,"y":22,"v":3.8},{"x":31,"y":23,"v":4.4},{"x":31,"y":24,"v":4.8},{"x":31,"y":25,"v":5},{"x":31,"y":26,"v":5.1},{"x":31,"y":27,"v":5},{"x":31,"y":28,"v":4.7},{"x":31,"y":29,"v":4.3},{"x":31,"y":30,"v":3.6},{"x":31,"y":31,"v":2.9},{"x":31,"y":32,"v":2.1},{"x":31,"y":33,"v":1.2},{"x":31,"y":34,"v":0.4},
{"x":32,"y":0,"v":0.3},{"x":32,"y":1,"v":0.7},{"x":32,"y":2,"v":1.3},{"x":32,"y":3,"v":1.8},{"x":32,"y":4,"v":2.2},{"x":32,"y":5,"v":2.6},{"x":32,"y":6,"v":2.9},{"x":32,"y":7,"v":3.1},{"x":32,"y":8,"v":3.2},{"x":32,"y":9,"v":3.2},{"x":32,"y":10,"v":3.1},{"x":32,"y":11,"v":2.9},{"x":32,"y":12,"v":2.5},{"x":32,"y":13,"v":2.1},{"x":32,"y":14,"v":1.7},{"x":32,"y":15,"v":1.1},{"x":32,"y":16,"v":0.6},{"x":32,"y":18,"v":0.5},{"x":32,"y":19,"v":1},{"x":32,"y":20,"v":1.5},{"x":32,"y":21,"v":2},{"x":32,"y":22,"v":2.4},{"x":32,"y":23,"v":2.8},{"x":32,"y":24,"v":3},{"x":32,"y":25,"v":3.2},{"x":32,"y":26,"v":3.2},{"x":32,"y":27,"v":3.2},{"x":32,"y":28,"v":3},{"x":32,"y":29,"v":2.7},{"x":32,"y":30,"v":2.3},{"x":32,"y":31,"v":1.8},{"x":32,"y":32,"v":1.3},{"x":32,"y":33,"v":0.8},{"x":32,"y":34,"v":0.3}
],
"bands":[{"v":0,"w":0.15},{"v":0.1,"w":0.25},{"v":0.2,"w":0.35},{"v":0.3,"w":0.45},{"v":0.4,"w":0.55},{"v":0.5,"w":0.65},{"v":0.6,"w":0.75},{"v":0.7,"w":0.85},{"v":0.8,"w":0.95},{"v":0.9,"w":1.05},{"v":1,"w":1.15},{"v":1.1,"w":1.25},{"v":1.2,"w":1.35},{"v":1.3,"w":1.45},{"v":1.4,"w":1.55},{"v":1.5,"w":1.65},{"v":1.6,"w":1.75},{"v":1.7,"w":1.85},{"v":1.8,"w":1.95},{"v":1.9,"w":2.05},{"v":2,"w":2.15},{"v":2.1,"w":2.25},{"v":2.2,"w":2.35},{"v":2.3,"w":2.45},{"v":2.4,"w":2.55},{"v":2.5,"w":2.65},{"v":2.6,"w":2.75},{"v":2.7,"w":2.85},{"v":2.8,"w":2.95},{"v":2.9,"w":3.05},{"v":3,"w":3.15},{"v":3.1,"w":3.25},{"v":3.2,"w":3.35},{"v":3.3,"w":3.45},{"v":3.4,"w":3.55},{"v":3.5,"w":3.65},{"v":3.6,"w":3.75},{"v":3.7,"w":3.85},{"v":3.8,"w":3.95},{"v":3.9,"w":4.05},{"v":4,"w":4.15},{"v":4.1,"w":4.25},{"v":4.2,"w":4.35},{"v":4.3,"w":4.45},{"v":4.4,"w":4.55},{"v":4.5,"w":4.65},{"v":4.6,"w":4.75},{"v":4.7,"w":4.85},{"v":4.8,"w":4.95},{"v":4.9,"w":5.05},{"v":5,"w":5.15},{"v":5.1,"w":5.25},{"v":5.2,"w":5.35},{"v":5.3,"w":5.4}],
"ticks":[{"t":0,"label":"1.5e-17"},{"t":1,"label":"1e-6"},{"t":2,"label":"2e-6"},{"t":3,"label":"3e-6"},{"t":4,"label":"4e-6"},{"t":5.4,"label":"5.4e-06"}]},
"hconcat":[
{"width":554,"height":554,"view":{"fill":"#2d3d96"},"data":{"name":"cells"},
"encoding":{"x":{"field":"x","type":"quantitative","scale":{"domain":[0,32],"nice":false,"zero":false},"axis":null},"y":{"field":"y","type":"quantitative","scale":{"domain":[-0.22,33.77],"nice":false,"zero":false,"reverse":true},"axis":null}},
"layer":[
{"mark":{"type":"point","shape":"M-1,0.94L1,-0.94","filled":false,"clip":true,"opacity":0.8,"size":1197,"strokeWidth":12.5,"strokeCap":"butt"},"encoding":{"color":{"field":"v","type":"quantitative","legend":null,"scale":{"domain":[0,6.75,13.5,20.25,27],"range":["#2d3d96","#6c8ac8","#a9a9a9","#cf7a5e","#c03a26"]}}}},
{"mark":{"type":"point","shape":"M-1,0.94L1,-0.94","filled":false,"clip":true,"opacity":0.6,"size":1197,"strokeWidth":10,"strokeCap":"butt"},"encoding":{"color":{"field":"v","type":"quantitative","legend":null,"scale":{"domain":[0,3.857,7.71,11.57,15.43],"range":["#2d3d96","#6c8ac8","#a9a9a9","#cf7a5e","#c03a26"]}}}},
{"mark":{"type":"point","shape":"M-1,0.94L1,-0.94","filled":false,"clip":true,"opacity":0.6,"size":1197,"strokeWidth":7.5,"strokeCap":"butt"},"encoding":{"color":{"field":"v","type":"quantitative","legend":null,"scale":{"domain":[0,2.25,4.5,6.75,9],"range":["#2d3d96","#6c8ac8","#a9a9a9","#cf7a5e","#c03a26"]}}}},
{"mark":{"type":"point","shape":"M-1,0.94L1,-0.94","filled":false,"clip":true,"opacity":0.6,"size":1197,"strokeWidth":5,"strokeCap":"butt"},"encoding":{"color":{"field":"v","type":"quantitative","legend":null,"scale":{"domain":[0,1.59,3.18,4.76,6.35],"range":["#2d3d96","#6c8ac8","#a9a9a9","#cf7a5e","#c03a26"]}}}},
{"mark":{"type":"point","shape":"M-1,0.94L1,-0.94","filled":false,"clip":true,"opacity":0.6,"size":1197,"strokeWidth":2.5,"strokeCap":"butt"},"encoding":{"color":{"field":"v","type":"quantitative","legend":null,"scale":{"domain":[0,1.23,2.45,3.68,4.91],"clamp":true,"range":["#2d3d96","#6c8ac8","#a9a9a9","#cf7a5e","#c03a26"]}}}}
],"resolve":{"scale":{"color":"independent"}}},
{"width":207,"height":554,
"layer":[
{"data":{"name":"bands"},"mark":{"type":"rect","strokeWidth":0},"encoding":{"x":{"datum":0,"type":"quantitative","scale":{"domain":[0,207],"nice":false,"zero":false},"axis":null},"x2":{"datum":16},"y":{"field":"v","type":"quantitative","scale":{"domain":[-0.035,11.506],"nice":false,"zero":false},"axis":null},"y2":{"field":"w"},"color":{"field":"v","type":"quantitative","legend":null,"scale":{"domain":[0,1.35,2.7,4.05,5.3],"range":["#3b4cc0","#8db0fe","#dddddd","#f49a7b","#b40426"]}}}},
{"data":{"name":"ticks"},"mark":{"type":"rule","color":"#ffffff","strokeWidth":1.3},"encoding":{"x":{"datum":12,"type":"quantitative"},"x2":{"datum":24},"y":{"field":"t","type":"quantitative"}}},
{"data":{"name":"ticks"},"transform":[{"filter":"datum.t==0||datum.t==5.4"}],"mark":{"type":"rule","color":"#ffffff","strokeWidth":1.3},"encoding":{"x":{"datum":0,"type":"quantitative"},"x2":{"datum":207},"y":{"field":"t","type":"quantitative"}}},
{"data":{"name":"ticks"},"mark":{"type":"text","align":"left","baseline":"middle","dy":-0.5,"font":"Liberation Sans","fontSize":16,"color":"#e4e4e4"},"encoding":{"x":{"datum":30,"type":"quantitative"},"y":{"field":"t","type":"quantitative"},"text":{"field":"label"}}},
{"data":{"values":[{"t":2.7,"label":"Error_Real"}]},"mark":{"type":"text","angle":270,"align":"center","baseline":"middle","font":"Liberation Sans","fontSize":16,"color":"#e4e4e4"},"encoding":{"x":{"datum":96,"type":"quantitative"},"y":{"field":"t","type":"quantitative"},"text":{"field":"label"}}}
],"resolve":{"scale":{"color":"independent"}}}
]}
